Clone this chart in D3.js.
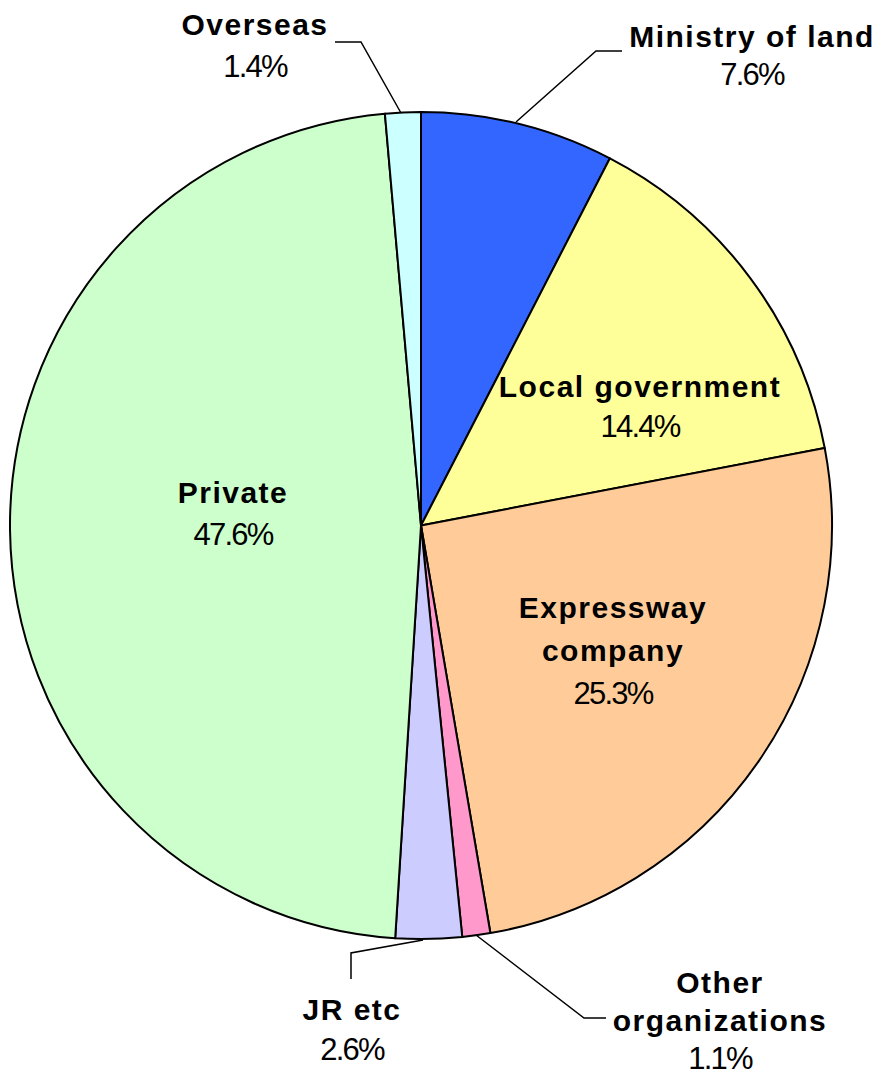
<!DOCTYPE html>
<html>
<head>
<meta charset="utf-8">
<script src="https://cdn.jsdelivr.net/npm/d3@7"></script>
<style>
  html, body { margin: 0; padding: 0; background: #ffffff; }
  svg { display: block; }
  .name { font-family: "Liberation Sans", Arial, sans-serif; font-weight: bold; font-size: 30px; letter-spacing: 1.5px; fill: #000; }
  .pct { font-family: "Liberation Sans", Arial, sans-serif; font-weight: normal; font-size: 31px; letter-spacing: -1.8px; fill: #000; }
</style>
</head>
<body>
<svg id="chart" width="882" height="1076"></svg>
<script>
// ---- data ----
const categories = ["Ministry of land", "Local government", "Expressway company", "Other organizations", "JR etc", "Private", "Overseas"];
const values = [7.6, 14.4, 25.3, 1.1, 2.6, 47.6, 1.4];
const colors = ["#3366FF", "#FFFF99", "#FFCC99", "#FF99CC", "#CCCCFF", "#CCFFCC", "#CCFFFF"];
const nameLines = [["Ministry of land"], ["Local government"], ["Expressway", "company"], ["Other", "organizations"], ["JR etc"], ["Private"], ["Overseas"]];

// ---- layout ----
const cx = 421, cy = 525.5, radius = 411, yStretch = 1.006;
// label anchor (center x, first baseline y, line step)
const labelPos = [
  { x: 752, y: 47, step: 38 },
  { x: 640, y: 397, step: 40 },
  { x: 613, y: 618, step: 43 },
  { x: 720, y: 993, step: 38 },
  { x: 352, y: 1020, step: 40 },
  { x: 233, y: 503, step: 42 },
  { x: 255, y: 35, step: 42 }
];
// leader line points
const leaders = {
  0: [[516, 122], [596, 51], [622, 51]],
  3: [[476, 935], [584, 1018], [606, 1018]],
  4: [[423, 940], [351, 953], [351, 979]],
  6: [[401, 113], [361, 42], [335, 42]]
};

const svg = d3.select("#chart");

const pie = d3.pie().sort(null).value(d => d)
  .startAngle(0).endAngle(2 * Math.PI);
const arc = d3.arc().innerRadius(0).outerRadius(radius);
const arcs = pie(values);

const g = svg.append("g")
  .attr("transform", `translate(${cx},${cy}) scale(1,${yStretch})`);

g.selectAll("path.slice")
  .data(arcs)
  .enter().append("path")
  .attr("class", "slice")
  .attr("d", arc)
  .attr("fill", (d, i) => colors[i])
  .attr("stroke", "#000")
  .attr("stroke-width", 2)
  .attr("stroke-linejoin", "round");

// leader lines
const line = d3.line();
Object.keys(leaders).forEach(k => {
  svg.append("path")
    .attr("d", line(leaders[k]))
    .attr("fill", "none")
    .attr("stroke", "#000")
    .attr("stroke-width", 1.5);
});

// labels
categories.forEach((c, i) => {
  const p = labelPos[i];
  const lines = nameLines[i];
  lines.forEach((t, j) => {
    svg.append("text")
      .attr("class", "name")
      .attr("x", p.x)
      .attr("y", p.y + j * p.step)
      .attr("text-anchor", "middle")
      .text(t);
  });
  svg.append("text")
    .attr("class", "pct")
    .attr("x", p.x)
    .attr("y", p.y + lines.length * p.step)
    .attr("text-anchor", "middle")
    .text(d3.format(".1f")(values[i]) + "%");
});
</script>
</body>
</html>
